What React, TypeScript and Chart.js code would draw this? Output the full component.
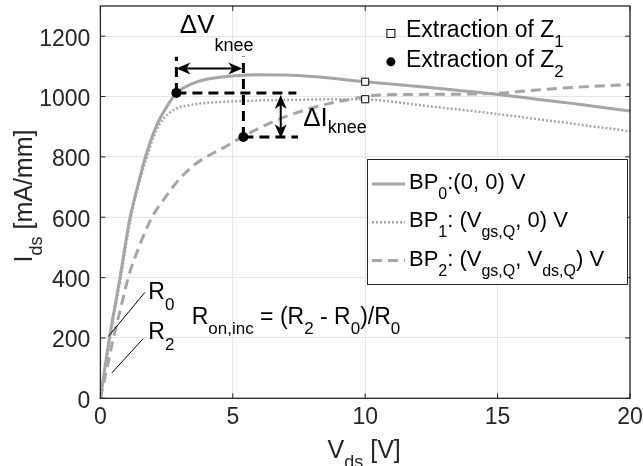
import React, { useEffect, useRef } from 'react';
import { Chart, registerables } from 'chart.js';

Chart.register(...registerables);

const FONT = "'Liberation Sans', Arial, Helvetica, sans-serif";
const AX = '#262626';
const GRAY = '#a6a6a6';

// I-V curves (Vds [V], Ids [mA/mm])
const bp0V = [0, 0.34, 0.74, 1.1, 1.4, 1.7, 2.14, 2.5, 2.87, 3.4, 4, 5, 6, 7, 8, 9, 10, 12, 15, 18, 20];
const bp0I = [0, 200, 400, 590, 700, 800, 908, 965, 1012, 1040, 1057, 1068, 1072, 1071, 1066, 1058, 1049, 1033, 1007, 975, 952];
const bp1V = [0, 0.35, 0.76, 1.12, 1.42, 1.76, 2.0, 2.3, 2.88, 3.3, 3.77, 5, 6, 7, 8, 9, 10, 12.7, 15, 18, 20];
const bp1I = [0, 195, 395, 585, 700, 800, 865, 917, 961, 970, 977, 984, 987, 989, 990, 991, 990, 965, 942, 908, 885];
const bp2V = [0, 0.25, 0.49, 0.77, 1.05, 1.45, 1.95, 2.44, 3.07, 3.57, 4.0, 4.64, 5.4, 6.4, 7.4, 8.42, 9.5, 10.56, 12, 15, 16.5, 18.2, 20];
const bp2I = [0, 100, 200, 300, 400, 500, 600, 665, 735, 775, 800, 830, 868, 912, 946, 972, 992, 1005, 1007, 1011, 1022, 1032, 1040];

// extraction points
const z1V = [10, 10];
const z1I = [1049, 991];
const z2V = [2.87, 5.4];
const z2I = [1012, 866];

// knee guide lines (black dashed)
const guide1V = [2.87, 2.87];
const guide1I = [1012, 1132];
const guide2V = [5.4, 5.4];
const guide2I = [866, 1133];
const guide3V = [2.87, 7.4];
const guide3I = [1012, 1012];
const guide4V = [5.4, 7.46];
const guide4I = [866, 866];

// arrows
const dVArrowV = [2.87, 5.36];
const dVArrowI = [1093, 1093];
const dIArrowV = [6.81, 6.81];
const dIArrowI = [1005, 862];

// R annotation leader lines
const r0LineV = [1.68, 0.3];
const r0LineI = [351, 205];
const r2LineV = [1.62, 0.43];
const r2LineI = [198, 84];

const xTicks = [0, 5, 10, 15, 20];
const yTicks = [0, 200, 400, 600, 800, 1000, 1200];

const pts = (xs: number[], ys: number[]) => xs.map((v, i) => ({ x: v, y: ys[i] }));

type Part = [string, boolean];

function drawRich(
  ctx: CanvasRenderingContext2D,
  x: number,
  y: number,
  parts: Part[],
  size: number,
  subSize: number,
  subOff: number,
  color = '#000',
  align: 'left' | 'center' = 'left'
) {
  ctx.save();
  ctx.fillStyle = color;
  ctx.textBaseline = 'alphabetic';
  ctx.textAlign = 'left';
  let w = 0;
  for (const [t, s] of parts) {
    ctx.font = `${s ? subSize : size}px ${FONT}`;
    w += ctx.measureText(t).width;
  }
  let cx = align === 'center' ? x - w / 2 : x;
  for (const [t, s] of parts) {
    ctx.font = `${s ? subSize : size}px ${FONT}`;
    ctx.fillText(t, cx, s ? y + subOff : y);
    cx += ctx.measureText(t).width;
  }
  ctx.restore();
  return w;
}

function richWidth(ctx: CanvasRenderingContext2D, parts: Part[], size: number, subSize: number) {
  ctx.save();
  let w = 0;
  for (const [t, s] of parts) {
    ctx.font = `${s ? subSize : size}px ${FONT}`;
    w += ctx.measureText(t).width;
  }
  ctx.restore();
  return w;
}

function arrowHead(ctx: CanvasRenderingContext2D, tx: number, ty: number, dx: number, dy: number) {
  const len = 14, half = 6, notch = 4;
  const bx = tx - dx * len, by = ty - dy * len;
  const nx = -dy, ny = dx;
  ctx.beginPath();
  ctx.moveTo(tx, ty);
  ctx.lineTo(bx + nx * half, by + ny * half);
  ctx.lineTo(tx - dx * (len - notch), ty - dy * (len - notch));
  ctx.lineTo(bx - nx * half, by - ny * half);
  ctx.closePath();
  ctx.fill();
}

function doubleArrow(ctx: CanvasRenderingContext2D, x1: number, y1: number, x2: number, y2: number) {
  const L = Math.hypot(x2 - x1, y2 - y1);
  const dx = (x2 - x1) / L, dy = (y2 - y1) / L;
  ctx.save();
  ctx.strokeStyle = '#000';
  ctx.fillStyle = '#000';
  ctx.lineWidth = 2;
  ctx.beginPath();
  ctx.moveTo(x1 + dx * 8, y1 + dy * 8);
  ctx.lineTo(x2 - dx * 8, y2 - dy * 8);
  ctx.stroke();
  arrowHead(ctx, x2, y2, dx, dy);
  arrowHead(ctx, x1, y1, -dx, -dy);
  ctx.restore();
}

const overlay = {
  id: 'overlay',
  afterDatasetsDraw(chart: any) {
    const { ctx, scales } = chart;
    const x = scales.x, y = scales.y;
    const px = (v: number) => x.getPixelForValue(v);
    const py = (v: number) => y.getPixelForValue(v);
    doubleArrow(ctx, px(dVArrowV[0]), py(dVArrowI[0]), px(dVArrowV[1]), py(dVArrowI[1]));
    doubleArrow(ctx, px(dIArrowV[0]), py(dIArrowI[0]), px(dIArrowV[1]), py(dIArrowI[1]));
    ctx.save();
    ctx.strokeStyle = '#000';
    ctx.lineWidth = 1;
    ctx.beginPath();
    ctx.moveTo(px(r0LineV[0]), py(r0LineI[0]));
    ctx.lineTo(px(r0LineV[1]), py(r0LineI[1]));
    ctx.moveTo(px(r2LineV[0]), py(r2LineI[0]));
    ctx.lineTo(px(r2LineV[1]), py(r2LineI[1]));
    ctx.stroke();
    ctx.restore();
  },
  afterDraw(chart: any) {
    const { ctx, chartArea: ca, scales } = chart;
    const x = scales.x, y = scales.y;
    const px = (v: number) => x.getPixelForValue(v);
    const py = (v: number) => y.getPixelForValue(v);

    // axes box + inner ticks
    ctx.save();
    ctx.strokeStyle = AX;
    ctx.lineWidth = 1.3;
    ctx.strokeRect(ca.left, ca.top, ca.right - ca.left, ca.bottom - ca.top);
    ctx.lineWidth = 1;
    ctx.beginPath();
    for (const t of xTicks) {
      const p = px(t);
      ctx.moveTo(p, ca.bottom); ctx.lineTo(p, ca.bottom - 5);
      ctx.moveTo(p, ca.top); ctx.lineTo(p, ca.top + 5);
    }
    for (const t of yTicks) {
      const p = py(t);
      ctx.moveTo(ca.left, p); ctx.lineTo(ca.left + 5, p);
      ctx.moveTo(ca.right, p); ctx.lineTo(ca.right - 5, p);
    }
    ctx.stroke();
    ctx.restore();

    // axis titles
    drawRich(ctx, (ca.left + ca.right) / 2 - 1, 458, [['V', false], ['ds', true], [' [V]', false]], 25, 18, 10, AX, 'center');
    const yParts: Part[] = [['I', false], ['ds', true], [' [mA/mm]', false]];
    const yw = richWidth(ctx, yParts, 25, 18);
    ctx.save();
    ctx.translate(32, 196 + yw / 2);
    ctx.rotate(-Math.PI / 2);
    drawRich(ctx, 0, 0, yParts, 25, 18, 10, AX);
    ctx.restore();

    // legend box for curves
    const lx = ca.right - 263, ly = ca.top + 153, lw = 260, lh = 125;
    ctx.save();
    ctx.fillStyle = '#fff';
    ctx.fillRect(lx, ly, lw, lh);
    ctx.strokeStyle = AX;
    ctx.lineWidth = 1;
    ctx.strokeRect(lx + 0.5, ly + 0.5, lw, lh);
    const rows = [
      { dash: [] as number[], w: 3, parts: [['BP', false], ['0', true], [':(0, 0) V', false]] as Part[] },
      { dash: [2, 2], w: 2.5, parts: [['BP', false], ['1', true], [': (V', false], ['gs,Q', true], [', 0) V', false]] as Part[] },
      { dash: [10, 6], w: 3, parts: [['BP', false], ['2', true], [': (V', false], ['gs,Q', true], [', V', false], ['ds,Q', true], [') V', false]] as Part[] },
    ];
    rows.forEach((r, i) => {
      const ry = ly + 25 + i * 38.3;
      ctx.save();
      ctx.strokeStyle = GRAY;
      ctx.lineWidth = r.w;
      ctx.setLineDash(r.dash);
      ctx.beginPath();
      ctx.moveTo(lx + 5, ry);
      ctx.lineTo(lx + 38, ry);
      ctx.stroke();
      ctx.restore();
      drawRich(ctx, lx + 42, ry + 5, r.parts, 22, 16, 10, '#000');
    });
    ctx.restore();

    // extraction legend (no box)
    ctx.save();
    ctx.fillStyle = '#fff';
    ctx.strokeStyle = '#000';
    ctx.lineWidth = 1;
    const sx = px(10.97), sy = py(1209);
    ctx.fillRect(sx - 4, sy - 4, 8, 8);
    ctx.strokeRect(sx - 4, sy - 4, 8, 8);
    ctx.fillStyle = '#000';
    ctx.beginPath();
    ctx.arc(px(10.97), py(1115), 4.5, 0, Math.PI * 2);
    ctx.fill();
    ctx.restore();
    drawRich(ctx, px(11.54), py(1198), [['Extraction of Z', false], ['1', true]], 23, 17, 10);
    drawRich(ctx, px(11.54), py(1098), [['Extraction of Z', false], ['2', true]], 23, 17, 10);

    // knee labels
    drawRich(ctx, px(3.0), py(1210), [['\u0394V', false], ['knee', true]], 26, 18, 18);
    drawRich(ctx, px(7.66), py(901), [['\u0394I', false], ['knee', true]], 26, 18, 7);

    // R labels
    drawRich(ctx, px(1.81), py(330), [['R', false], ['0', true]], 23, 17, 11);
    drawRich(ctx, px(1.81), py(198), [['R', false], ['2', true]], 23, 17, 11);
    drawRich(ctx, px(3.45), py(247), [
      ['R', false], ['on,inc', true], [' = (R', false], ['2', true], [' - R', false], ['0', true], [')/R', false], ['0', true],
    ], 23, 17, 10);
  },
};

export default function App() {
  const ref = useRef<HTMLCanvasElement | null>(null);
  useEffect(() => {
    document.body.style.margin = '0';
    const canvas = ref.current;
    if (!canvas) return;
    const curve = (label: string, xs: number[], ys: number[], dash: number[], w: number) => ({
      type: 'line' as const,
      label,
      data: pts(xs, ys),
      borderColor: GRAY,
      borderWidth: w,
      borderDash: dash,
      pointRadius: 0,
      fill: false,
      cubicInterpolationMode: 'monotone' as const,
      order: 3,
    });
    const guide = (xs: number[], ys: number[]) => ({
      type: 'line' as const,
      label: 'guide',
      data: pts(xs, ys),
      borderColor: '#000',
      borderWidth: 3,
      borderDash: [10, 6],
      pointRadius: 0,
      fill: false,
      tension: 0,
      order: 2,
    });
    const zeroPad = (s: any) => {
      s.paddingTop = 0;
      s.paddingBottom = 0;
      s.paddingLeft = 0;
      s.paddingRight = 0;
    };
    const chart = new Chart(canvas, {
      type: 'line',
      data: {
        datasets: [
          {
            type: 'scatter',
            label: 'Z1',
            data: pts(z1V, z1I),
            pointStyle: 'rect',
            pointRadius: 5,
            pointBackgroundColor: '#fff',
            pointBorderColor: '#000',
            pointBorderWidth: 1,
            showLine: false,
            order: 0,
          } as any,
          {
            type: 'scatter',
            label: 'Z2',
            data: pts(z2V, z2I),
            pointStyle: 'circle',
            pointRadius: 5,
            pointBackgroundColor: '#000',
            pointBorderColor: '#000',
            pointBorderWidth: 0,
            showLine: false,
            order: 0,
          } as any,
          guide(guide1V, guide1I),
          guide(guide2V, guide2I),
          guide(guide3V, guide3I),
          guide(guide4V, guide4I),
          curve('BP0', bp0V, bp0I, [], 3),
          curve('BP1', bp1V, bp1I, [2, 2], 2.5),
          curve('BP2', bp2V, bp2I, [10, 6], 3),
        ],
      },
      options: {
        animation: false,
        responsive: false,
        layout: { padding: { top: 4, right: 13, left: 0, bottom: 0 } },
        plugins: { legend: { display: false }, tooltip: { enabled: false } },
        scales: {
          x: {
            type: 'linear',
            min: 0,
            max: 20,
            afterBuildTicks: (s: any) => { s.ticks = xTicks.map((v) => ({ value: v })); },
            afterFit: (s: any) => { s.height = 67.7; zeroPad(s); },
            grid: { color: '#e6e6e6', lineWidth: 1, drawTicks: false },
            border: { display: false },
            ticks: { color: AX, font: { family: FONT, size: 23 }, padding: 6, maxRotation: 0, callback: (v: any) => String(v) },
          },
          y: {
            type: 'linear',
            min: 0,
            max: 1300,
            afterBuildTicks: (s: any) => { s.ticks = yTicks.map((v) => ({ value: v })); },
            afterFit: (s: any) => { s.width = 100.4; zeroPad(s); },
            grid: { color: '#e6e6e6', lineWidth: 1, drawTicks: false },
            border: { display: false },
            ticks: { color: AX, font: { family: FONT, size: 23 }, padding: 10, labelOffset: 3, callback: (v: any) => String(v) },
          },
        },
      },
      plugins: [overlay],
    } as any);
    return () => chart.destroy();
  }, []);
  return (
    <div style={{ width: 643, height: 466 }}>
      <canvas ref={ref} width={643} height={466} style={{ display: 'block', width: 643, height: 466 }} />
    </div>
  );
}
